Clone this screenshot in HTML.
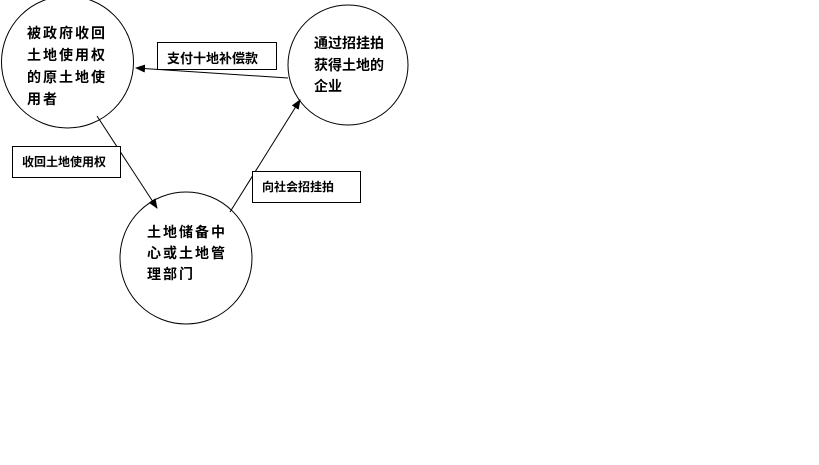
<!DOCTYPE html>
<html><head><meta charset="utf-8"><style>
body{margin:0;background:#fff;}
svg text{font-family:"Liberation Sans","Noto Sans CJK SC",sans-serif;font-weight:bold;fill:#000;}
</style></head><body>
<svg width="819" height="460" viewBox="0 0 819 460" xmlns="http://www.w3.org/2000/svg">
<defs><marker id="a" markerWidth="10" markerHeight="8" refX="9" refY="4" orient="auto" markerUnits="userSpaceOnUse"><path d="M0,0 L10,4 L0,8 z" fill="#000"/></marker></defs>
<circle cx="67.5" cy="62" r="66" fill="none" stroke="#000"/>
<circle cx="348" cy="65" r="60" fill="none" stroke="#000"/>
<circle cx="186" cy="258" r="66" fill="none" stroke="#000"/>
<line x1="288" y1="78" x2="136" y2="68" stroke="#000" marker-end="url(#a)"/>
<line x1="97" y1="116" x2="157" y2="208" stroke="#000" marker-end="url(#a)"/>
<line x1="230" y1="212" x2="300" y2="100" stroke="#000" marker-end="url(#a)"/>
<rect x="157.5" y="42.5" width="119" height="27" fill="#fff" stroke="#000"/>
<rect x="12.5" y="146.5" width="108" height="31" fill="#fff" stroke="#000"/>
<rect x="252.5" y="171.5" width="108" height="31" fill="#fff" stroke="#000"/>
<text x="167" y="63" font-size="13">支付十地补偿款</text>
<text x="22" y="166" font-size="12">收回土地使用权</text>
<text x="262" y="191" font-size="12">向社会招挂拍</text>
<g font-size="14" letter-spacing="2">
<text x="27" y="38">被政府收回</text>
<text x="27" y="60">土地使用权</text>
<text x="27" y="82">的原土地使</text>
<text x="27" y="104">用者</text>
<text x="147" y="237">土地储备中</text>
<text x="147" y="258">心或土地管</text>
<text x="147" y="279">理部门</text>
</g>
<g font-size="14">
<text x="314" y="48">通过招挂拍</text>
<text x="314" y="70">获得土地的</text>
<text x="314" y="91">企业</text>
</g>
</svg>
</body></html>
